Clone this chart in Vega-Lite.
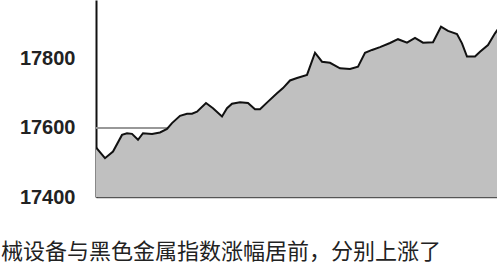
{
  "$schema": "https://vega.github.io/schema/vega-lite/v6.json",
  "width": 401,
  "height": 197,
  "autosize": "none",
  "padding": {"left": 96, "top": 0, "right": 0, "bottom": 73},
  "background": "white",
  "config": {"view": {"stroke": null}},
  "title": {
    "text": "械设备与黑色金属指数涨幅居前，分别上涨了",
    "orient": "bottom",
    "anchor": "start",
    "frame": "group",
    "dx": -95,
    "offset": 35,
    "font": "Noto Sans CJK SC",
    "fontSize": 22,
    "fontWeight": "normal",
    "color": "#222222"
  },
  "data": {
    "values": [
      {"t": 0, "v": 17543}, {"t": 9, "v": 17512}, {"t": 17, "v": 17531}, {"t": 26, "v": 17579},
      {"t": 31, "v": 17584}, {"t": 36, "v": 17582}, {"t": 42, "v": 17565}, {"t": 47, "v": 17584},
      {"t": 56, "v": 17582}, {"t": 64, "v": 17586}, {"t": 71, "v": 17596}, {"t": 76, "v": 17613},
      {"t": 84, "v": 17634}, {"t": 91, "v": 17640}, {"t": 96, "v": 17640}, {"t": 101, "v": 17646},
      {"t": 110, "v": 17671}, {"t": 117, "v": 17656}, {"t": 126, "v": 17632}, {"t": 131, "v": 17656},
      {"t": 136, "v": 17669}, {"t": 144, "v": 17673}, {"t": 152, "v": 17671}, {"t": 159, "v": 17653},
      {"t": 164, "v": 17653}, {"t": 172, "v": 17675}, {"t": 181, "v": 17699}, {"t": 187, "v": 17714},
      {"t": 194, "v": 17736}, {"t": 201, "v": 17743}, {"t": 211, "v": 17752}, {"t": 219, "v": 17816},
      {"t": 226, "v": 17790}, {"t": 234, "v": 17787}, {"t": 244, "v": 17771}, {"t": 254, "v": 17769},
      {"t": 262, "v": 17776}, {"t": 269, "v": 17816}, {"t": 276, "v": 17824}, {"t": 284, "v": 17832},
      {"t": 294, "v": 17844}, {"t": 302, "v": 17855}, {"t": 311, "v": 17845}, {"t": 319, "v": 17859},
      {"t": 327, "v": 17845}, {"t": 337, "v": 17846}, {"t": 345, "v": 17891}, {"t": 352, "v": 17879},
      {"t": 361, "v": 17870}, {"t": 366, "v": 17843}, {"t": 371, "v": 17805}, {"t": 379, "v": 17805},
      {"t": 384, "v": 17819}, {"t": 392, "v": 17838}, {"t": 399, "v": 17872}, {"t": 405, "v": 17896}
    ]
  },
  "layer": [
    {
      "mark": {"type": "rule", "color": "#999999", "strokeWidth": 1},
      "encoding": {"y": {"datum": 17600, "type": "quantitative", "scale": {"domain": [17400, 17968], "zero": false, "nice": false}}}
    },
    {
      "mark": {"type": "area", "color": "#c0c0c0", "opacity": 1, "clip": true, "line": {"color": "#111111", "strokeWidth": 2}},
      "encoding": {
        "x": {"field": "t", "type": "quantitative", "scale": {"domain": [0, 401], "nice": false, "zero": false},
          "axis": {"title": null, "labels": false, "ticks": false, "grid": false, "domain": true, "domainColor": "#555555", "domainWidth": 1.5}},
        "y": {"field": "v", "type": "quantitative", "scale": {"domain": [17400, 17968], "zero": false, "nice": false},
          "axis": {"title": null, "values": [17400, 17600, 17800], "format": "d", "grid": false, "ticks": false, "labelPadding": 21,
            "labelFont": "Liberation Sans", "labelFontSize": 20, "labelFontWeight": "bold", "labelColor": "#222222",
            "domainColor": "#111111", "domainWidth": 2}},
        "y2": {"datum": 17400}
      }
    }
  ]
}
